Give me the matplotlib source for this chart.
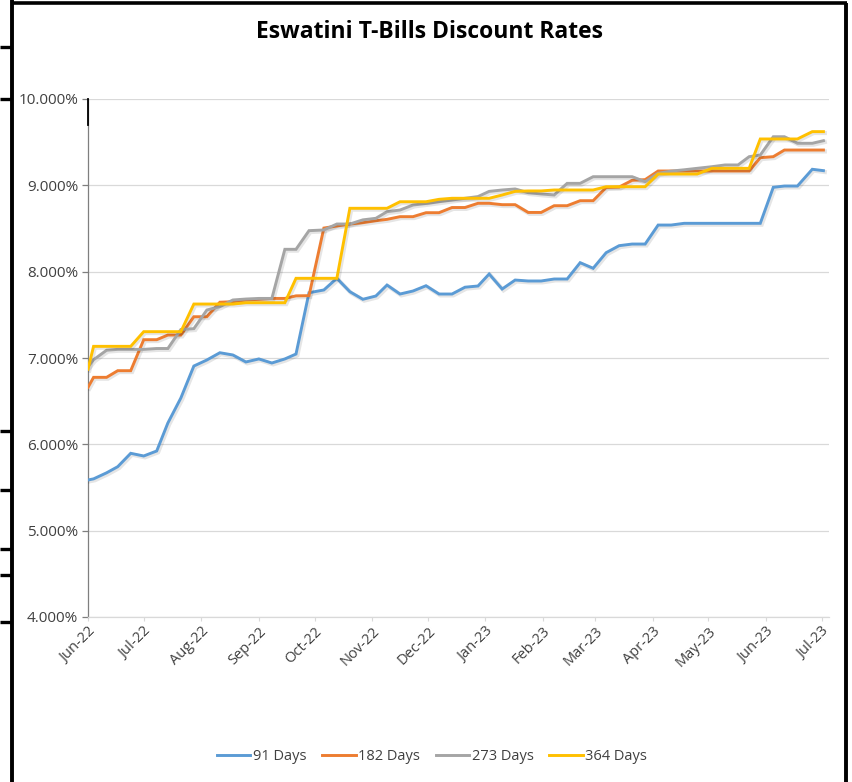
import matplotlib
matplotlib.use("Agg")
import matplotlib.pyplot as plt
import matplotlib.dates as mdates
import matplotlib.patheffects as pe
from matplotlib.lines import Line2D
from matplotlib.ticker import FuncFormatter, MultipleLocator
import pandas as pd

plt.rcParams["font.family"] = ["Open Sans", "DejaVu Sans"]

title = "Eswatini T-Bills Discount Rates"

dates = [
    "2022-06-01", "2022-06-04", "2022-06-11", "2022-06-17", "2022-06-24",
    "2022-07-01", "2022-07-08", "2022-07-14", "2022-07-21", "2022-07-28",
    "2022-08-04", "2022-08-11", "2022-08-18", "2022-08-25", "2022-09-01",
    "2022-09-08", "2022-09-15", "2022-09-21", "2022-09-28", "2022-10-06",
    "2022-10-13", "2022-10-20", "2022-10-27", "2022-11-03", "2022-11-09",
    "2022-11-16", "2022-11-23", "2022-11-30", "2022-12-07", "2022-12-14",
    "2022-12-21", "2022-12-28", "2023-01-03", "2023-01-10", "2023-01-17",
    "2023-01-24", "2023-01-31", "2023-02-07", "2023-02-14", "2023-02-21",
    "2023-02-28", "2023-03-07", "2023-03-14", "2023-03-21", "2023-03-28",
    "2023-04-04", "2023-04-11", "2023-04-18", "2023-04-25", "2023-05-03",
    "2023-05-10", "2023-05-17", "2023-05-23", "2023-05-29", "2023-06-05",
    "2023-06-11", "2023-06-18", "2023-06-26", "2023-07-02",
]

days_91 = [
    5.587, 5.60, 5.67, 5.741, 5.896, 5.865, 5.923, 6.247, 6.537, 6.907,
    6.977, 7.061, 7.035, 6.954, 6.989, 6.942, 6.989, 7.046, 7.756, 7.788,
    7.923, 7.768, 7.680, 7.718, 7.845, 7.741, 7.776, 7.837, 7.741, 7.741,
    7.820, 7.834, 7.973, 7.799, 7.903, 7.892, 7.892, 7.915, 7.915, 8.104,
    8.039, 8.220, 8.301, 8.320, 8.320, 8.540, 8.540, 8.560, 8.560, 8.560,
    8.560, 8.560, 8.560, 8.560, 8.977, 8.992, 8.992, 9.186, 9.170,
]

days_182 = [
    6.660, 6.776, 6.776, 6.853, 6.853, 7.212, 7.212, 7.266, 7.266, 7.478,
    7.478, 7.646, 7.652, 7.672, 7.680, 7.690, 7.690, 7.720, 7.722, 8.505,
    8.529, 8.552, 8.567, 8.590, 8.606, 8.637, 8.637, 8.683, 8.683, 8.743,
    8.743, 8.792, 8.792, 8.776, 8.776, 8.686, 8.686, 8.764, 8.764, 8.822,
    8.822, 8.975, 8.980, 9.058, 9.066, 9.166, 9.166, 9.166, 9.166, 9.166,
    9.166, 9.166, 9.166, 9.320, 9.332, 9.409, 9.409, 9.409, 9.409,
]

days_273 = [
    6.900, 6.980, 7.090, 7.100, 7.100, 7.100, 7.110, 7.110, 7.330, 7.340,
    7.556, 7.594, 7.672, 7.683, 7.690, 7.690, 8.259, 8.259, 8.475, 8.483,
    8.552, 8.552, 8.600, 8.618, 8.695, 8.714, 8.772, 8.790, 8.810, 8.830,
    8.850, 8.870, 8.930, 8.946, 8.958, 8.915, 8.900, 8.888, 9.023, 9.023,
    9.100, 9.100, 9.100, 9.100, 9.042, 9.139, 9.165, 9.180, 9.197, 9.216,
    9.236, 9.236, 9.332, 9.351, 9.563, 9.563, 9.487, 9.487, 9.517,
]

days_364 = [
    6.870, 7.135, 7.135, 7.135, 7.135, 7.305, 7.305, 7.305, 7.305, 7.625,
    7.625, 7.625, 7.625, 7.640, 7.640, 7.640, 7.640, 7.923, 7.923, 7.923,
    7.923, 8.734, 8.734, 8.734, 8.734, 8.810, 8.810, 8.810, 8.838, 8.850,
    8.850, 8.850, 8.850, 8.888, 8.930, 8.935, 8.935, 8.946, 8.946, 8.946,
    8.946, 8.984, 8.984, 8.984, 8.984, 9.131, 9.131, 9.131, 9.131, 9.197,
    9.197, 9.197, 9.197, 9.537, 9.537, 9.537, 9.537, 9.622, 9.622,
]

series_names = ["91 Days", "182 Days", "273 Days", "364 Days"]
series_values = [days_91, days_182, days_273, days_364]
series_colors = ["#5B9BD5", "#ED7D31", "#A5A5A5", "#FFC000"]

y_min, y_max, y_step = 4.0, 10.0, 1.0
x_start, x_end = "2022-06-01", "2023-07-05"

W, H = 852, 782
fig = plt.figure(figsize=(W / 100, H / 100), dpi=100)
fig.patch.set_facecolor("white")

def fx(px):
    return px / W

def fy(py):
    return 1 - py / H

ax = fig.add_axes([fx(88), fy(617), fx(829) - fx(88), fy(99) - fy(617)])
x = pd.to_datetime(dates)

shadow = [pe.SimpleLineShadow(offset=(1.0, -1.0), shadow_color="#000000", alpha=0.10, linewidth=3.0),
          pe.Normal()]
for name, vals, col in zip(series_names, series_values, series_colors):
    ax.plot(x, vals, color=col, lw=2.1, label=name, solid_joinstyle="miter",
            path_effects=shadow, zorder=3)

ax.set_ylim(y_min, y_max)
ax.set_xlim(pd.Timestamp(x_start), pd.Timestamp(x_end))
ax.yaxis.set_major_locator(MultipleLocator(y_step))
ax.yaxis.set_major_formatter(FuncFormatter(lambda v, p: f"{v:.3f}%"))
ax.xaxis.set_major_locator(mdates.MonthLocator())
ax.xaxis.set_major_formatter(mdates.DateFormatter("%b-%y"))

ax.grid(axis="y", color="#D9D9D9", lw=0.9, zorder=0)
ax.set_axisbelow(True)
for s in ["top", "right"]:
    ax.spines[s].set_visible(False)
ax.spines["left"].set_color("#7F7F7F")
ax.spines["left"].set_linewidth(0.9)
ax.spines["bottom"].set_color("#D9D9D9")
ax.spines["bottom"].set_linewidth(0.9)

ax.tick_params(axis="y", length=4, width=0.9, color="#7F7F7F", labelsize=11,
               labelcolor="#404040", pad=3)
ax.tick_params(axis="x", length=3, width=0.8, color="#D9D9D9", labelsize=10.5,
               labelcolor="#404040", pad=2)
for lbl in ax.get_xticklabels():
    lbl.set_rotation(45)
    lbl.set_ha("right")
    lbl.set_va("top")
    lbl.set_rotation_mode("anchor")

# dark top segment of the value axis
ax.plot([0, 0], [1.0, 0.95], transform=ax.transAxes, color="black", lw=1.3,
        clip_on=False, zorder=4)

fig.text(fx(430), fy(32), title, ha="center", va="center", fontsize=16.5,
         fontweight="bold", color="black")

leg = fig.legend(loc="center", bbox_to_anchor=(fx(432), fy(757)), ncol=4,
                 frameon=False, fontsize=10.5, handlelength=2.3,
                 handletextpad=0.15, columnspacing=1.1)
for t in leg.get_texts():
    t.set_color("#404040")
for h in leg.get_lines():
    h.set_linewidth(2.1)
    h.set_path_effects([])

# surrounding sheet borders
def fline(xs, ys, lw=2.6):
    fig.add_artist(Line2D([fx(v) for v in xs], [fy(v) for v in ys], color="black",
                          lw=lw, solid_capstyle="butt"))

fline([12, 12], [0, H], lw=2.8)
fline([12, 847], [3, 3], lw=2.6)
fline([846, 846], [3, H], lw=2.8)
for yy in [47, 99, 431, 490, 549, 575, 622]:
    fline([0, 12], [yy, yy], lw=2.4)

fig.savefig("out.png", dpi=100, facecolor="white")
